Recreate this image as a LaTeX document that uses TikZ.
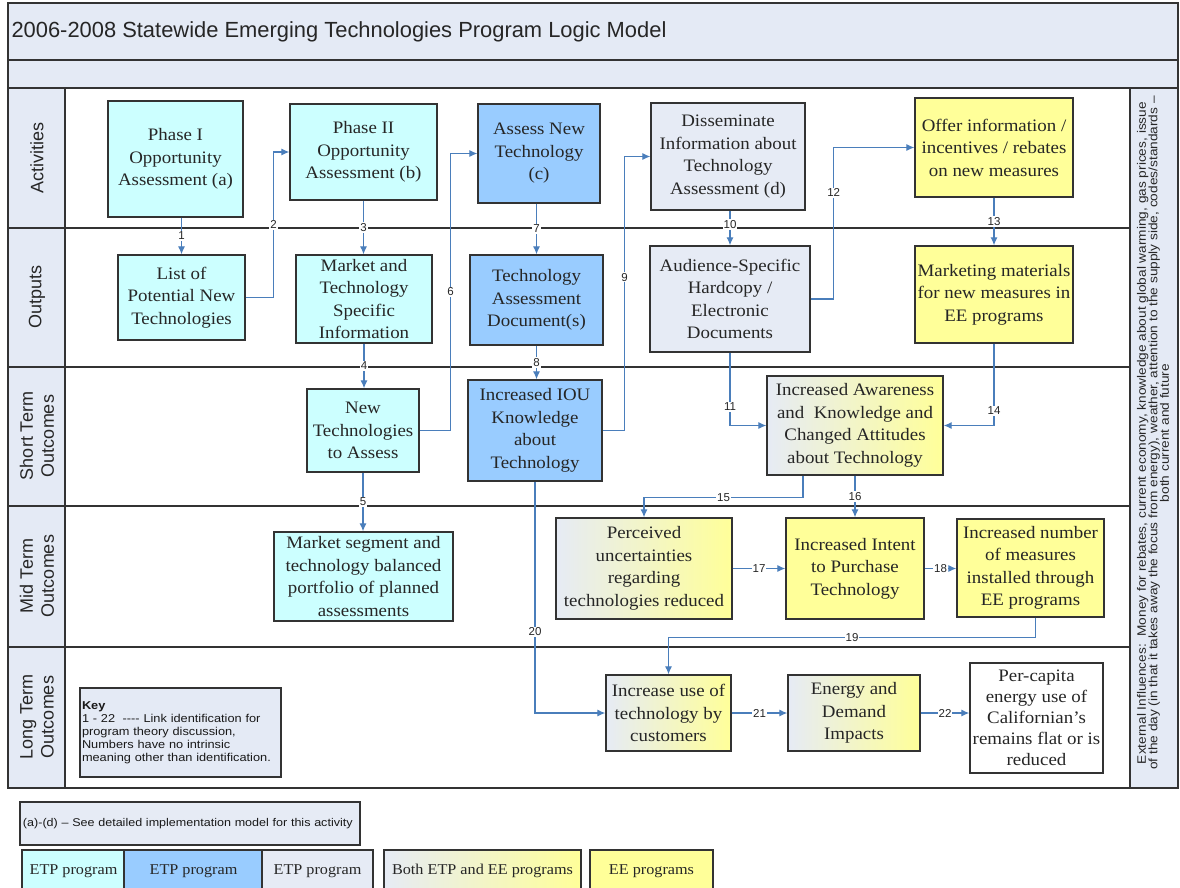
\documentclass[tikz,border=0pt]{standalone}
\usepackage{fontspec}
\setmainfont[FakeStretch=1.08]{Liberation Serif}
\newfontfamily\arial{Liberation Sans}
\newfontfamily\arialw[FakeStretch=1.12]{Liberation Sans}
\usetikzlibrary{arrows.meta}
\definecolor{cy}{HTML}{CCFFFF}
\definecolor{bl}{HTML}{99CCFF}
\definecolor{lt}{HTML}{E6EBF5}
\definecolor{ye}{HTML}{FFFF99}
\definecolor{panel}{HTML}{E4EAF5}
\definecolor{ln}{HTML}{4A7EBB}
\definecolor{fr}{HTML}{333333}
\begin{document}
\begin{tikzpicture}[x=1pt,y=-1pt,
  frame/.style={draw=fr,line width=1.3pt},
  bx/.style={draw=fr,line width=1.3pt,align=center,inner sep=1pt,
    font=\fontsize{17.5}{22.5}\selectfont,text=black!85},
  gr/.style={bx,left color=lt,right color=ye},
  con/.style={draw=ln,line width=1.2pt,-{Latex[length=8pt,width=7pt]}},
  lab/.style={fill=white,inner sep=1pt,font=\arial\fontsize{11.5}{12}\selectfont,text=black!85},
  rowlab/.style={rotate=90,align=center,font=\arial\fontsize{18}{21}\selectfont,text=black!85},
  lg/.style={draw=fr,line width=1.2pt,align=center,font=\fontsize{15}{17}\selectfont,text=black!85}]
\useasboundingbox (0,0) rectangle (1180,888);
% panels
\fill[panel] (8,3) rectangle (1178,88);
\fill[panel] (8,88) rectangle (65,788);
\fill[panel] (1130,88) rectangle (1178,788);
\draw[frame] (8,3) rectangle (1178,788);
\draw[frame] (8,60) -- (1178,60);
\draw[frame] (8,88) -- (1178,88);
\draw[frame] (65,88) -- (65,788);
\draw[frame] (1130,88) -- (1130,788);
\foreach \yy in {228,367,506,647} \draw[frame] (8,\yy) -- (1130,\yy);
\node[anchor=west,font=\arial\fontsize{21.9}{25}\selectfont,text=black!85] (title) at (8,32) {2006-2008 Statewide Emerging Technologies Program Logic Model};
% row labels
\node[rowlab] (rA) at (37,158) {Activities};
\node[rowlab] (rO) at (37,297) {Outputs};
\node[rowlab] (rS) at (37,436) {Short Term\\Outcomes};
\node[rowlab] (rM) at (37,576) {Mid Term\\Outcomes};
\node[rowlab] (rL) at (37,717) {Long Term\\Outcomes};
\node[rotate=90,align=center,font=\arialw\fontsize{12.2}{11.5}\selectfont,text=black!85] (ext) at (1153,433)
 {External Influences:\ \ Money for rebates, current economy, knowledge about global warming, gas prices, issue\\
  of the day (in that it takes away the focus from energy), weather, attention to the supply side, codes/standards \textendash\\
  both current and future};
% boxes
\node[bx,fill=cy,minimum width=135pt,minimum height=116pt] (PhaseI) at (175.5,159) {Phase I\\Opportunity\\Assessment (a)};
\node[bx,fill=cy,minimum width=147pt,minimum height=96pt] (PhaseII) at (363.5,152) {Phase II\\Opportunity\\Assessment (b)};
\node[bx,fill=bl,minimum width=122pt,minimum height=99pt] (Assess) at (539,153.5) {Assess New\\Technology\\(c)};
\node[bx,fill=lt,minimum width=154pt,minimum height=107pt] (Dissem) at (728,156.5) {Disseminate\\Information about\\Technology\\Assessment (d)};
\node[bx,fill=ye,minimum width=158pt,minimum height=99pt] (Offer) at (994,147.5) {Offer information /\\incentives / rebates\\on new measures};
\node[bx,fill=cy,minimum width=127pt,minimum height=85pt] (List) at (181.5,297.5) {List of\\Potential New\\Technologies};
\node[bx,fill=cy,minimum width=136pt,minimum height=88pt] (Market) at (364,299) {Market and\\Technology\\Specific\\Information};
\node[bx,fill=bl,minimum width=133pt,minimum height=90pt] (TAD) at (536.5,300) {Technology\\Assessment\\Document(s)};
\node[bx,fill=lt,minimum width=160pt,minimum height=106pt] (Audience) at (730,299) {Audience-Specific\\Hardcopy /\\Electronic\\Documents};
\node[bx,fill=ye,minimum width=158pt,minimum height=97pt] (Marketing) at (994,294.5) {Marketing materials\\for new measures in\\EE programs};
\node[bx,fill=cy,minimum width=112pt,minimum height=83pt] (NewTech) at (363,430.5) {New\\Technologies\\to Assess};
\node[bx,fill=bl,minimum width=134pt,minimum height=101pt] (IOU) at (535,430.5) {Increased IOU\\Knowledge\\about\\Technology};
\node[gr,minimum width=176pt,minimum height=99pt] (Aware) at (855,425.5) {Increased Awareness\\and\ \ Knowledge and\\Changed Attitudes\\about Technology};
\node[bx,fill=cy,minimum width=179pt,minimum height=89pt] (Segment) at (363.5,576.5) {Market segment and\\technology balanced\\portfolio of planned\\assessments};
\node[gr,minimum width=176pt,minimum height=101pt] (Perceived) at (644,568.5) {Perceived\\uncertainties\\regarding\\technologies reduced};
\node[bx,fill=ye,minimum width=138pt,minimum height=101pt] (Intent) at (855,568.5) {Increased Intent\\to Purchase\\Technology};
\node[bx,fill=ye,minimum width=147pt,minimum height=98pt] (Number) at (1030.5,568) {Increased number\\of measures\\installed through\\EE programs};
\node[gr,minimum width=125pt,minimum height=76pt] (IncUse) at (668.5,713) {Increase use of\\technology by\\customers};
\node[gr,minimum width=132pt,minimum height=76pt] (Energy) at (854,713) {Energy and\\Demand\\Impacts};
\node[bx,fill=white,minimum width=133pt,minimum height=110pt,font=\fontsize{17.5}{21}\selectfont] (PerCap) at (1036.5,718) {Per-capita\\energy use of\\Californian's\\remains flat or is\\reduced};
\node[draw=fr,line width=1.2pt,fill=panel,minimum width=201pt,minimum height=89pt,text width=197pt,align=left,inner sep=2pt,
  font=\arialw\fontsize{11.4}{13}\selectfont,text=black!90] (Key) at (180.5,732.5)
  {\textbf{Key}\\1 - 22\ \ ---- Link identification for\\program theory discussion,\\Numbers have no intrinsic\\\mbox{meaning other than identification.}};
% connectors
\draw[con] (PhaseI.south -| List.north) -- node[lab]{1} (List.north);
\draw[con] (List.east) -- ++(28,0) |- node[lab,pos=.25]{2} (PhaseII.west);
\draw[con] (PhaseII.south) -- node[lab]{3} (PhaseII.south |- Market.north);
\draw[con] (Market.south) -- node[lab]{4} (Market.south |- NewTech.north);
\draw[con] (NewTech.south) -- node[lab]{5} (NewTech.south |- Segment.north);
\draw[con] (NewTech.east) -- ++(31,0) |- node[lab,pos=.25]{6} (Assess.west);
\draw[con] (TAD.north |- Assess.south) -- node[lab]{7} (TAD.north);
\draw[con] (TAD.south) -- node[lab]{8} (TAD.south |- IOU.north);
\draw[con] (IOU.east) -- ++(22,0) |- node[lab,pos=.28]{9} (Dissem.west);
\draw[con] (Audience.north |- Dissem.south) -- node[lab,pos=.4]{10} (Audience.north);
\draw[con] (Audience.south) |- node[lab,pos=.37]{11} (Aware.west);
\draw[con] (Audience.east) -- ++(23,0) |- node[lab,pos=.35]{12} (Offer.west);
\draw[con] (Offer.south) -- node[lab]{13} (Offer.south |- Marketing.north);
\draw[con] (Marketing.south) |- node[lab,pos=.41]{14} (Aware.east);
\draw[con] ([xshift=-52pt]Aware.south) -- ++(0,22) -| node[lab,pos=.25]{15} (Perceived.north);
\draw[con] (Aware.south) -- node[lab]{16} (Aware.south |- Intent.north);
\draw[con] (Perceived.east) -- node[lab]{17} (Intent.west);
\draw[con] (Intent.east) -- node[lab]{18} (Number.west |- Intent.east);
\draw[con] ([xshift=5pt]Number.south) -- ++(0,20) -| node[lab,pos=.25]{19} (IncUse.north);
\draw[con] (IOU.south) |- node[lab,pos=.325]{20} (IncUse.west);
\draw[con] (IncUse.east) -- node[lab]{21} (Energy.west);
\draw[con] (Energy.east) -- node[lab]{22} (PerCap.west |- Energy.east);
% legend
\node[draw=fr,line width=1.2pt,fill=lt,minimum width=340pt,minimum height=43pt,text width=334pt,align=left,inner sep=3pt,
  font=\arialw\fontsize{11.2}{12}\selectfont,text=black!90] (adnote) at (190,823.5)
  {(a)-(d) \textendash{} See detailed implementation model for this activity};
\node[lg,fill=cy,minimum width=103pt,minimum height=42pt] (L1) at (73.5,871) {ETP program};
\node[lg,fill=bl,minimum width=139pt,minimum height=42pt] (L2) at (193.5,871) {ETP program};
\node[lg,fill=lt,minimum width=111pt,minimum height=42pt] (L3) at (317.5,871) {ETP program};
\node[lg,left color=lt,right color=ye,minimum width=197pt,minimum height=42pt] (L4) at (482.5,871) {Both ETP and EE programs};
\node[lg,fill=ye,minimum width=123pt,minimum height=42pt] (L5) at (651.5,871) {EE programs};
\end{tikzpicture}
\end{document}
